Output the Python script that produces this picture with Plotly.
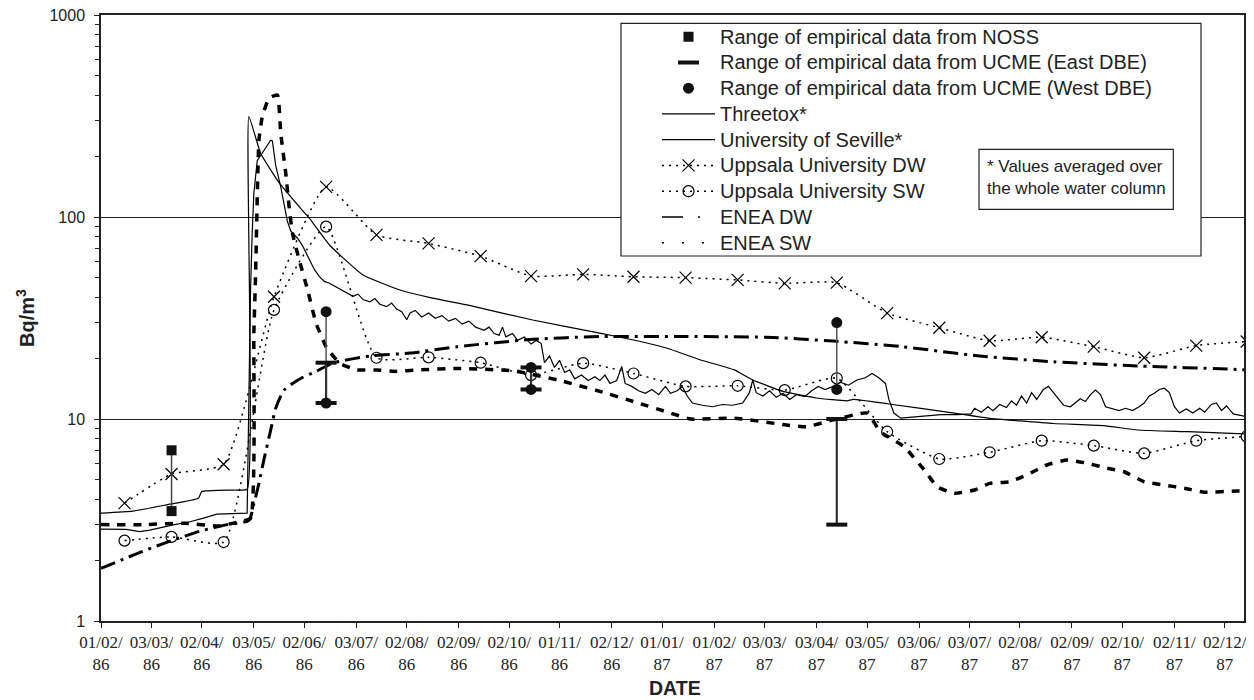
import pandas as pd
import plotly.graph_objects as go

# ---------------- data ----------------
TICK_DATES = ["1986-02-01", "1986-03-03", "1986-04-02", "1986-05-03", "1986-06-02", "1986-07-03",
              "1986-08-02", "1986-09-02", "1986-10-02", "1986-11-01", "1986-12-02", "1987-01-01",
              "1987-02-01", "1987-03-03", "1987-04-03", "1987-05-03", "1987-06-03", "1987-07-03",
              "1987-08-02", "1987-09-02", "1987-10-02", "1987-11-02", "1987-12-02"]
TICK_LABELS = ["01/02/<br>86", "03/03/<br>86", "02/04/<br>86", "03/05/<br>86", "02/06/<br>86",
               "03/07/<br>86", "02/08/<br>86", "02/09/<br>86", "02/10/<br>86", "01/11/<br>86",
               "02/12/<br>86", "01/01/<br>87", "01/02/<br>87", "03/03/<br>87", "03/04/<br>87",
               "03/05/<br>87", "03/06/<br>87", "03/07/<br>87", "02/08/<br>87", "02/09/<br>87",
               "02/10/<br>87", "02/11/<br>87", "02/12/<br>87"]
X_RANGE = ["1986-02-01", "1987-12-13 10:00"]
BASE_DATE = "1986-02-01"  # model series are given as days since this date

# Empirical ranges (low / high)
NOSS_DATES = ["1986-03-15"]
NOSS_LOW = [3.5]
NOSS_HIGH = [7.0]
EAST_DATES = ["1986-06-15", "1986-10-15", "1987-04-15"]
EAST_LOW = [12, 14, 3]
EAST_HIGH = [19, 18, 10]
WEST_DATES = ["1986-06-15", "1986-10-15", "1987-04-15"]
WEST_LOW = [12, 14, 14]
WEST_HIGH = [34, 18, 30]

# Threetox* (days since 1 Feb 1986, Bq/m3)
THREETOX_DAY = [0, 15, 23, 29, 43, 53, 61, 69, 87, 89, 90, 91, 93, 97, 101, 102, 104, 107, 111, 113,
                117, 120, 124, 127, 130, 133, 136, 142, 146, 150, 153, 156, 160, 163, 166, 170, 173,
                176, 179, 182, 184, 187, 191, 195, 199, 203, 207, 211, 215, 219, 223, 228, 231, 234,
                237, 239, 241, 245, 248, 252, 256, 259, 262, 264, 267, 270, 273, 276, 279, 282, 286,
                290, 294, 297, 300, 303, 307, 310, 312, 316, 320, 324, 328, 332, 336, 339, 343, 346,
                349, 352, 358, 364, 370, 376, 382, 386, 388, 390, 394, 398, 402, 406, 410, 414, 419,
                423, 427, 431, 436, 440, 445, 450, 455, 459, 463, 467, 469, 472, 476, 482, 490, 500,
                510, 518, 520, 524, 528, 531, 535, 539, 542, 545, 548, 551, 554, 557, 561, 564, 567,
                570, 573, 577, 580, 583, 586, 589, 592, 595, 598, 602, 606, 610, 614, 618, 621, 624,
                627, 630, 633, 636, 639, 642, 646, 650, 654, 657, 661, 664, 667, 670, 674, 681]
THREETOX_VAL = [2.85, 2.84, 2.77, 2.82, 2.99, 3.1, 3.23, 3.38, 3.42, 43, 83, 131, 190, 215, 240, 238,
                180, 141, 95, 85, 78.5, 72, 61.3, 55, 50.7, 48, 47, 44, 42, 40.5, 41.5, 39, 38, 39.5,
                37, 36, 37.5, 35, 34, 31, 33.5, 34.5, 32, 33.5, 31.5, 32.5, 30.5, 31.5, 29.5, 30.5,
                28.5, 27.5, 28.5, 26.5, 26, 28.5, 25.5, 26.5, 24.5, 25.5, 23.5, 24.5, 23.7, 19, 20.5,
                18, 19.5, 17, 17.5, 15.8, 16.5, 15.5, 16.2, 15.5, 16.5, 15, 15.5, 18.2, 15, 14.5,
                13.8, 13.4, 14.0, 13.2, 14.5, 13.4, 13.8, 14.5, 13.0, 12.0, 11.7, 11.5, 11.8, 11.7,
                12, 13.5, 15.6, 13.5, 13, 13.8, 12.8, 13.4, 12.5, 13.2, 12.9, 13.8, 14.5, 14.0,
                14.5, 15.2, 14.7, 15.6, 16.0, 16.8, 16.0, 15.0, 12.5, 10.7, 10.1, 10.2, 10.4,
                10.5, 10.5, 10.6, 11.3, 10.8, 11.5, 11.0, 11.8, 11.4, 12.3, 11.7, 13.0, 12.0, 13.5,
                12.5, 14.0, 14.5, 13.5, 12.5, 11.7, 11.5, 12.0, 12.6, 12.2, 13.2, 13.9, 13.2, 11.5,
                11.2, 11.0, 11.3, 11.0, 11.5, 12.0, 13.0, 13.4, 14.0, 14.2, 13.5, 11.5, 10.7, 11.2,
                10.7, 11.3, 10.8, 11.8, 12.0, 11.0, 11.6, 10.6, 10.3]

# University of Seville*
SEVILLE_DAY = [0, 19, 39, 58, 60, 79, 87, 88, 95, 106, 119, 124, 136, 156, 178, 196, 218, 257, 297,
               317, 337, 357, 377, 388, 406, 426, 444, 448, 468, 508, 528, 567, 597, 617, 647, 681]
SEVILLE_VAL = [3.42, 3.50, 3.76, 4.05, 4.37, 4.45, 4.49, 314, 207, 148, 110, 98.6, 72.7, 51.6, 43.5,
               39.9, 36.7, 30.9, 26.6, 24.6, 22.4, 19.6, 17.5, 15.6, 13.7, 12.7, 12.3, 12.5, 11.9,
               10.7, 10.1, 9.5, 9.27, 8.82, 8.65, 8.43]

# Uppsala University (monthly samples)
UPPSALA_DATES = ["1986-02-15", "1986-03-15", "1986-04-15", "1986-05-15", "1986-06-15", "1986-07-15",
                 "1986-08-15", "1986-09-15", "1986-10-15", "1986-11-15", "1986-12-15", "1987-01-15",
                 "1987-02-15", "1987-03-15", "1987-04-15", "1987-05-15", "1987-06-15", "1987-07-15",
                 "1987-08-15", "1987-09-15", "1987-10-15", "1987-11-15", "1987-12-15"]
UPPSALA_DW = [3.83, 5.34, 5.97, 40.3, 141, 81.5, 74, 64, 51, 52, 50.6, 50.1, 48.8, 46.9, 47.3, 33.4,
              28.3, 24.4, 25.4, 22.8, 20.1, 23.1, 24.2]
UPPSALA_SW = [2.50, 2.61, 2.46, 34.7, 89.6, 20.1, 20.2, 19.0, 16.5, 18.9, 16.8, 14.5, 14.6, 13.9,
              15.9, 8.65, 6.34, 6.84, 7.81, 7.38, 6.76, 7.81, 8.2]

# ENEA
ENEA_DW_DAY = [0, 15, 30, 45, 60, 75, 88, 91, 94, 97, 101, 104, 109, 119, 128, 138, 160, 184, 212,
               257, 297, 347, 396, 436, 477, 523, 567, 617, 676, 681]
ENEA_DW_VAL = [1.82, 2.05, 2.3, 2.55, 2.8, 3.0, 3.15, 3.8, 4.8, 6.3, 8.8, 11.3, 13.9, 15.9, 17.2,
               18.9, 20.5, 21.2, 22.8, 24.8, 25.6, 25.6, 25.4, 24.3, 22.8, 20.5, 19.2, 18.3, 17.6,
               17.5]
ENEA_SW_DAY = [0, 25, 50, 70, 80, 89, 91, 92, 94, 96, 100, 105, 107, 110, 112, 114, 118, 123, 128,
               134, 142, 152, 164, 175, 189, 212, 246, 272, 297, 317, 339, 351, 377, 408, 420, 436,
               456, 464, 478, 490, 498, 508, 520, 529, 541, 551, 563, 575, 587, 599, 609, 621, 633,
               645, 657, 676, 681]
ENEA_SW_VAL = [3.0, 3.0, 3.05, 2.95, 3.07, 3.22, 26.7, 50.7, 240, 314, 387, 402, 260, 164, 112, 83,
               61.3, 43.5, 29.8, 22.8, 18.9, 17.5, 17.5, 17.2, 17.5, 17.8, 17.3, 15.6, 13.7, 12.2,
               10.7, 10.0, 10.1, 9.34, 9.16, 9.9, 10.7, 8.65, 7.3, 5.6, 4.6, 4.29, 4.45, 4.8, 4.89,
               5.28, 5.92, 6.27, 6.04, 5.7, 5.48, 4.89, 4.71, 4.54, 4.34, 4.4, 4.4]


def to_dates(days):
    return list(pd.Timestamp(BASE_DATE) + pd.to_timedelta(days, unit="D"))


def range_segments(dates, lows, highs):
    xs, ys = [], []
    for d, lo, hi in zip(dates, lows, highs):
        xs += [d, d, None]
        ys += [lo, hi, None]
    return xs, ys


LEG = '<span style="font-size:20px">{}</span>'

DW_DASH = "15px,6px,3px,6px"
SW_DASH = "8px,8px"

fig = go.Figure()

# model curves
fig.add_trace(go.Scatter(x=to_dates(ENEA_DW_DAY), y=ENEA_DW_VAL, mode="lines", showlegend=False,
                         line=dict(color="black", width=3, dash=DW_DASH, shape="spline", smoothing=0.6)))
fig.add_trace(go.Scatter(x=to_dates(ENEA_SW_DAY), y=ENEA_SW_VAL, mode="lines", showlegend=False,
                         line=dict(color="black", width=3.5, dash=SW_DASH, shape="spline", smoothing=0.4)))
# legend-only samples for ENEA (the legend draws them thin, as in the original)
fig.add_trace(go.Scatter(x=[None], y=[None], mode="lines", name=LEG.format("ENEA DW"),
                         line=dict(color="black", width=1.5, dash="21px,15px,2px,30px"), legendrank=8))
fig.add_trace(go.Scatter(x=[None], y=[None], mode="lines", name=LEG.format("ENEA SW"),
                         line=dict(color="black", width=1.5, dash="2px,18px"), legendrank=9))

fig.add_trace(go.Scatter(x=to_dates(SEVILLE_DAY), y=SEVILLE_VAL, mode="lines",
                         name=LEG.format("University of Seville*"),
                         line=dict(color="black", width=1.2, shape="spline", smoothing=0.4), legendrank=5))
fig.add_trace(go.Scatter(x=to_dates(THREETOX_DAY), y=THREETOX_VAL, mode="lines", name=LEG.format("Threetox*"),
                         line=dict(color="black", width=1.2), legendrank=4))
fig.add_trace(go.Scatter(x=UPPSALA_DATES, y=UPPSALA_DW, mode="lines+markers",
                         name=LEG.format("Uppsala University DW"),
                         line=dict(color="black", width=1.5, dash="2px,5px", shape="spline", smoothing=0.5),
                         marker=dict(symbol="x-thin-open", size=12, line=dict(color="black", width=1.2)),
                         legendrank=6))
fig.add_trace(go.Scatter(x=UPPSALA_DATES, y=UPPSALA_SW, mode="lines+markers",
                         name=LEG.format("Uppsala University SW"),
                         line=dict(color="black", width=1.5, dash="2px,5px", shape="spline", smoothing=0.5),
                         marker=dict(symbol="circle-open", size=11, color="black",
                                     line=dict(color="black", width=1.2)),
                         legendrank=7))

# empirical ranges
x, y = range_segments(WEST_DATES, WEST_LOW, WEST_HIGH)
fig.add_trace(go.Scatter(x=x, y=y, mode="lines", line=dict(color="#555", width=1.5), showlegend=False))
x, y = range_segments(EAST_DATES, EAST_LOW, EAST_HIGH)
fig.add_trace(go.Scatter(x=x, y=y, mode="lines", line=dict(color="#333", width=2.2), showlegend=False))
x, y = range_segments(NOSS_DATES, NOSS_LOW, NOSS_HIGH)
fig.add_trace(go.Scatter(x=x, y=y, mode="lines", line=dict(color="#444", width=1.5), showlegend=False))

fig.add_trace(go.Scatter(x=NOSS_DATES * 2, y=NOSS_LOW + NOSS_HIGH, mode="markers",
                         name=LEG.format("Range of empirical data from NOSS"),
                         marker=dict(symbol="square", size=10, color="#111"), legendrank=1))
fig.add_trace(go.Scatter(x=EAST_DATES * 2, y=EAST_LOW + EAST_HIGH, mode="markers",
                         name=LEG.format("Range of empirical data from UCME (East DBE)"),
                         marker=dict(symbol="line-ew", size=15, line=dict(color="#111", width=4)),
                         legendrank=2))
fig.add_trace(go.Scatter(x=WEST_DATES * 2, y=WEST_LOW + WEST_HIGH, mode="markers",
                         name=LEG.format("Range of empirical data from UCME (West DBE)"),
                         marker=dict(symbol="circle", size=11, color="#111"), legendrank=3))

# screen geometry (page body has an 8 px default margin)
OFF = 8
FIG_W, FIG_H = 1254 - OFF, 700 - OFF
PX_L, PX_R, PX_T, PX_B = 101, 1244, 15, 621
W, H = PX_R - PX_L, PX_B - PX_T


def px(xp):
    return (xp - PX_L) / W


def py(yp):
    return (PX_B - yp) / H


# legend box and note box
fig.add_shape(type="rect", xref="paper", yref="paper", x0=px(621), x1=px(1201), y0=py(256), y1=py(23.3),
              line=dict(color="#222", width=1.2), fillcolor="white", layer="above")
fig.add_shape(type="rect", xref="paper", yref="paper", x0=px(979), x1=px(1173.3), y0=py(209.3), y1=py(149.3),
              line=dict(color="#222", width=1.2), fillcolor="white", layer="above")
fig.add_annotation(xref="paper", yref="paper", x=px(1076), y=py(177.5), xanchor="center", yanchor="middle",
                   showarrow=False, align="left",
                   text="* Values averaged over<br>the whole water column",
                   font=dict(family="Liberation Sans, Arial", size=17, color="#222"))

# axis titles
fig.add_annotation(xref="paper", yref="paper", x=px(25), y=0.5, xanchor="center", yanchor="middle",
                   showarrow=False, textangle=-90,
                   text="<b>Bq/m<sup>3</sup></b>", font=dict(family="Liberation Sans, Arial", size=20,
                                                           color="#222"))
fig.add_annotation(xref="paper", yref="paper", x=px(675), y=py(688), xanchor="center", yanchor="middle",
                   showarrow=False,
                   text="<b>DATE</b>", font=dict(family="Liberation Sans, Arial", size=19.5, color="#222"))

fig.update_layout(
    width=FIG_W, height=FIG_H,
    margin=dict(l=PX_L - OFF, r=FIG_W - (PX_R - OFF), t=PX_T - OFF, b=FIG_H - (PX_B - OFF),
                autoexpand=False),
    paper_bgcolor="white", plot_bgcolor="white",
    legend=dict(x=px(657), xanchor="left", y=py(18.8), yanchor="top", bgcolor="rgba(0,0,0,0)",
                borderwidth=0, itemwidth=53, traceorder="normal",
                font=dict(family="Liberation Sans, Arial", size=17.5, color="#222")),
    xaxis=dict(type="date", range=X_RANGE, tickmode="array", tickvals=TICK_DATES, ticktext=TICK_LABELS,
               ticks="outside", ticklen=5, tickcolor="#222", showgrid=False, zeroline=False,
               showline=True, linecolor="#222", linewidth=1.5, mirror=True, automargin=False,
               ticklabeloverflow="allow",
               tickfont=dict(family="Liberation Serif, Times New Roman", size=17, color="#222")),
    yaxis=dict(type="log", range=[0, 3], dtick=1, ticks="outside", ticklen=5, tickcolor="#222",
               showgrid=True, gridcolor="#222", gridwidth=1.2, zeroline=False,
               showline=True, linecolor="#222", linewidth=1.5, mirror=True, automargin=False,
               minor=dict(ticks="outside", ticklen=4, tickcolor="#222", dtick="D1", showgrid=False),
               ticklabelstandoff=6, ticklabeloverflow="allow",
               tickfont=dict(family="Liberation Sans, Arial", size=16, color="#222")),
)

fig.write_html("out.html")
